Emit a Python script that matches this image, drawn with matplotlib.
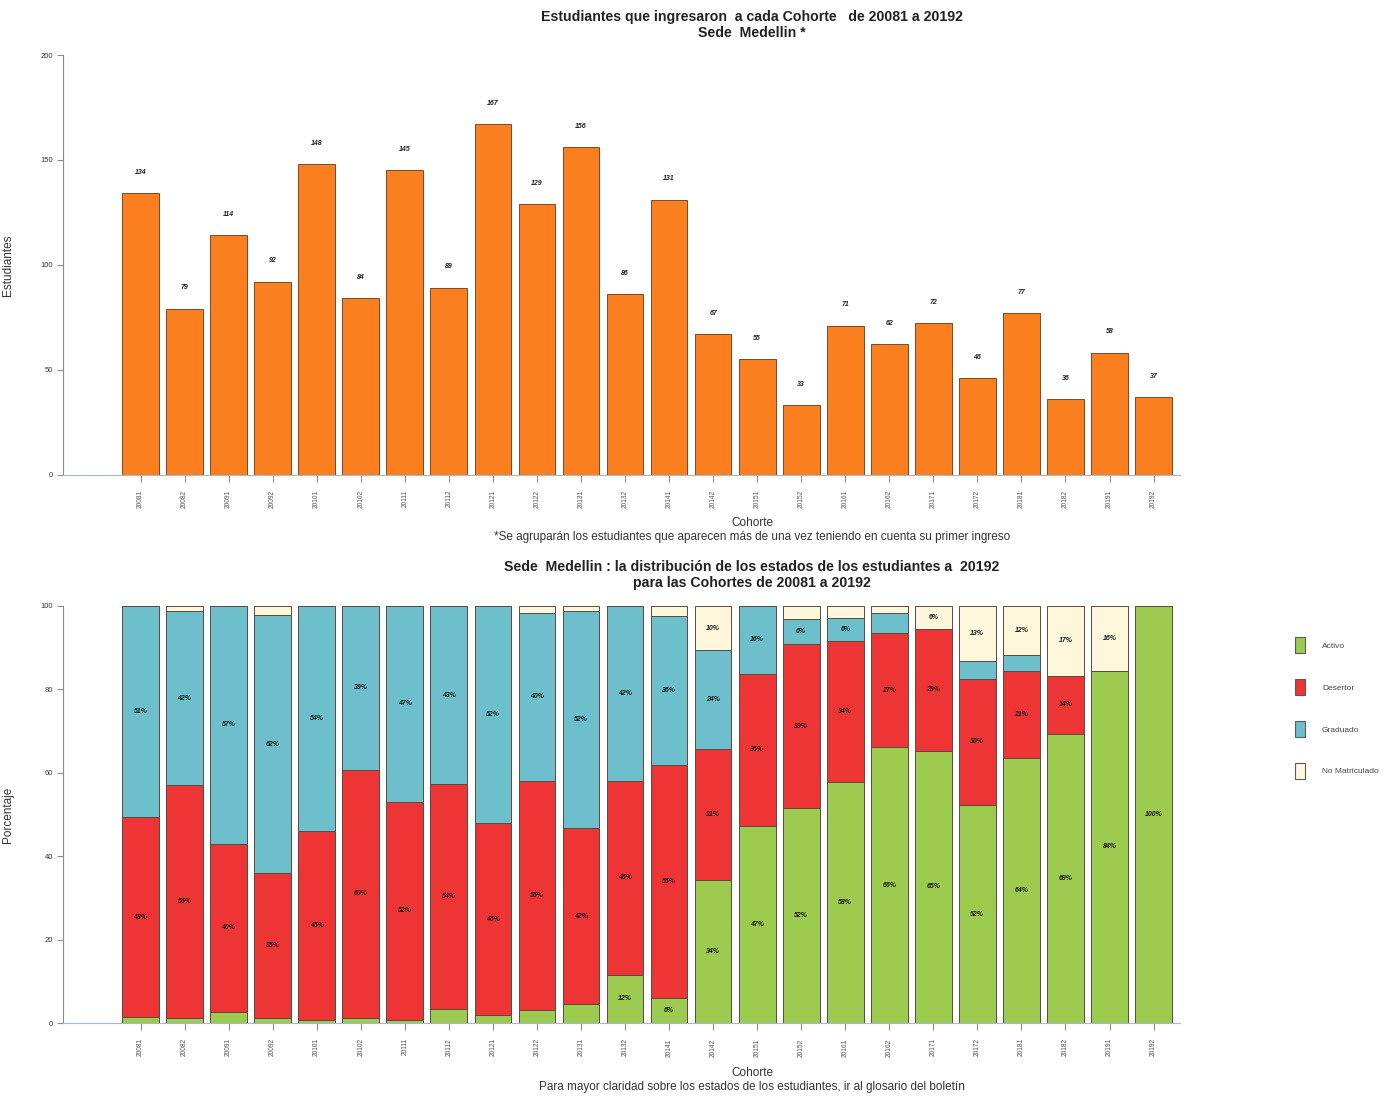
import numpy as np
import matplotlib
matplotlib.use("Agg")
import matplotlib.pyplot as plt
from matplotlib.patches import Patch

plt.rcParams['font.family'] = ['Liberation Sans', 'DejaVu Sans']

cohortes = ["20081", "20082", "20091", "20092", "20101", "20102", "20111", "20112",
            "20121", "20122", "20131", "20132", "20141", "20142", "20151", "20152",
            "20161", "20162", "20171", "20172", "20181", "20182", "20191", "20192"]
estudiantes = [134, 79, 114, 92, 148, 84, 145, 89, 167, 129, 156, 86, 131, 67,
               55, 33, 71, 62, 72, 46, 77, 36, 58, 37]

estados = ["Activo", "Desertor", "Graduado", "No Matriculado"]
activo = [1.5, 1.3, 2.6, 1.1, 0.7, 1.2, 0.7, 3.4, 1.8, 3.1, 4.5, 11.6, 6.1, 34.3,
          47.3, 51.5, 57.7, 66.1, 65.3, 52.2, 63.6, 69.4, 84.5, 100.0]
desertor = [47.8, 55.7, 40.4, 34.8, 45.3, 59.5, 52.4, 53.9, 46.1, 55.0, 42.3, 46.5,
            55.7, 31.3, 36.4, 39.4, 33.8, 27.4, 29.2, 30.4, 20.8, 13.9, 0.0, 0.0]
graduado = [50.7, 41.8, 57.0, 62.0, 54.1, 39.3, 46.9, 42.7, 52.1, 40.3, 51.9, 41.9,
            35.9, 23.9, 16.4, 6.1, 5.6, 4.8, 0.0, 4.3, 3.9, 0.0, 0.0, 0.0]
no_matriculado = [0.0, 1.3, 0.0, 2.2, 0.0, 0.0, 0.0, 0.0, 0.0, 1.6, 1.3, 0.0, 2.3,
                  10.4, 0.0, 3.0, 2.8, 1.6, 5.6, 13.0, 11.7, 16.7, 15.5, 0.0]

colores = ["#9CCB50", "#EE3536", "#6DBFCB", "#FFF7DC"]
naranja = "#FC7F1F"

W, H = 1396, 1097
fig = plt.figure(figsize=(W / 100, H / 100), dpi=100)

x = 0.7 + 1.2 * np.arange(len(cohortes))
xlim = (-1.412, 29.02)

def px_axes(left, right, top, bottom):
    return fig.add_axes([left / W, 1 - bottom / H, (right - left) / W, (bottom - top) / H])

def style_axes(ax, ymax, step):
    ax.set_xlim(*xlim)
    ax.set_ylim(0, ymax)
    for s in ["top", "right"]:
        ax.spines[s].set_visible(False)
    ax.spines["left"].set_color("#8c8c8c")
    ax.spines["left"].set_bounds(0, ymax)
    ax.spines["bottom"].set_color("#a9b8c9")
    ax.spines["bottom"].set_linewidth(0.8)
    ax.set_yticks(np.arange(0, ymax + 1, step))
    ax.tick_params(axis="y", labelsize=5.5, colors="#8c8c8c", labelcolor="#333333",
                   length=4, width=0.8, pad=3)
    ax.set_xticks(x)
    ax.set_xticklabels(cohortes, rotation=90, fontsize=4.8, color="#555555")
    ax.tick_params(axis="x", colors="#8c8c8c", labelcolor="#555555", length=5,
                   width=0.8, pad=6)

# ---------- Top chart ----------
ax1 = px_axes(63, 1180, 55, 474.5)
ax1.bar(x, estudiantes, width=1.0, color=naranja, edgecolor="#7a4a2a", linewidth=0.7)
for xi, v in zip(x, estudiantes):
    ax1.annotate(str(v), (xi, v), xytext=(0, 12.5), textcoords="offset points",
                 ha="center", va="bottom", fontsize=5, fontweight="bold", style="italic",
                 color="#222222")
style_axes(ax1, 200, 50)
ax1.set_ylabel("Estudiantes", fontsize=8.5, color="#333333")
ax1.yaxis.set_label_coords((14 - 63) / 1117, 0.5)

cx = 752 / W
fig.text(cx, 1 - 17 / H, "Estudiantes que ingresaron  a cada Cohorte   de 20081 a 20192",
         ha="center", va="center", fontsize=10.2, fontweight="bold", color="#222222")
fig.text(cx, 1 - 33 / H, "Sede  Medellin *", ha="center", va="center", fontsize=10.2,
         fontweight="bold", color="#222222")
fig.text(cx, 1 - 523 / H, "Cohorte", ha="center", va="center", fontsize=8.5, color="#333333")
fig.text(cx, 1 - 537 / H,
         "*Se agruparán los estudiantes que aparecen más de una vez teniendo en cuenta su primer ingreso",
         ha="center", va="center", fontsize=8.5, color="#333333")

# ---------- Bottom chart ----------
ax2 = px_axes(63, 1180, 606, 1023)
series = [activo, desertor, graduado, no_matriculado]
bottom = np.zeros(len(cohortes))
for vals, col in zip(series, colores):
    vals = np.array(vals)
    ax2.bar(x, vals, width=1.0, bottom=bottom, color=col, edgecolor="#5a4a40", linewidth=0.7)
    for xi, b, v in zip(x, bottom, vals):
        if v >= 5:
            ax2.text(xi, b + v / 2, f"{int(round(v))}%", ha="center", va="center",
                     fontsize=5, fontweight="bold", style="italic", color="#1a1a1a")
    bottom = bottom + vals
style_axes(ax2, 100, 20)
ax2.set_ylabel("Porcentaje", fontsize=8.5, color="#333333")
ax2.yaxis.set_label_coords((14 - 63) / 1117, 0.5)

fig.text(cx, 1 - 567 / H,
         "Sede  Medellin : la distribución de los estados de los estudiantes a  20192",
         ha="center", va="center", fontsize=10.2, fontweight="bold", color="#222222")
fig.text(cx, 1 - 583 / H, "para las Cohortes de 20081 a 20192", ha="center", va="center",
         fontsize=10.2, fontweight="bold", color="#222222")
fig.text(cx, 1 - 1073 / H, "Cohorte", ha="center", va="center", fontsize=8.5, color="#333333")
fig.text(cx, 1 - 1087 / H,
         "Para mayor claridad sobre los estados de los estudiantes, ir al glosario del boletín",
         ha="center", va="center", fontsize=8.5, color="#333333")

handles = [Patch(facecolor=c, edgecolor="#5a5a5a", linewidth=0.8) for c in colores]
fig.legend(handles, estados, loc="upper left", bbox_to_anchor=(1295 / W, 1 - 637 / H),
           frameon=False, fontsize=6, handlelength=1.25, handleheight=2.6,
           labelspacing=3.1, handletextpad=2.0, borderpad=0, borderaxespad=0,
           labelcolor="#444444")

fig.savefig("out.png", dpi=100)
